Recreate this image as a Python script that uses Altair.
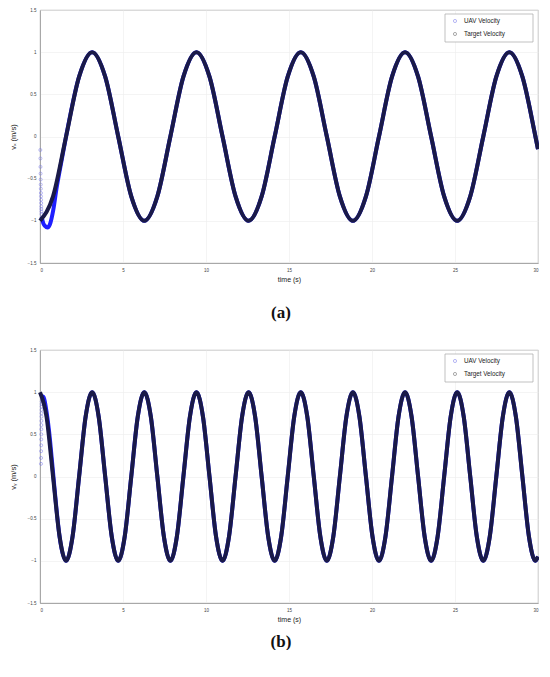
import altair as alt
import pandas as pd

# ---------------- data ----------------
# (a) target v_x samples: extrema / zero crossings / mid values
vx_time = [0.0, 0.785, 1.571, 2.356, 3.142, 3.927, 4.712, 5.498, 6.283, 7.069,
           7.854, 8.639, 9.425, 10.210, 10.996, 11.781, 12.566, 13.352, 14.137, 14.923,
           15.708, 16.493, 17.279, 18.064, 18.850, 19.635, 20.420, 21.206, 21.991, 22.777,
           23.562, 24.347, 25.133, 25.918, 26.704, 27.489, 28.274, 29.060, 29.845, 30.0]
vx_target = [-1, -0.71, 0, 0.71, 1, 0.71, 0, -0.71,
             -1, -0.71, 0, 0.71, 1, 0.71, 0, -0.71,
             -1, -0.71, 0, 0.71, 1, 0.71, 0, -0.71,
             -1, -0.71, 0, 0.71, 1, 0.71, 0, -0.71,
             -1, -0.71, 0, 0.71, 1, 0.71, 0, -0.15]

# (a) UAV v_x start-up transient
uav_vx_col_time = [0.02, 0.025, 0.03, 0.035, 0.04, 0.045, 0.05, 0.055, 0.06, 0.065,
                   0.07, 0.075, 0.08, 0.085, 0.09]
uav_vx_col = [-0.16, -0.26, -0.36, -0.44, -0.51, -0.57, -0.62, -0.67, -0.71, -0.75,
              -0.79, -0.83, -0.86, -0.89, -0.92]
uav_vx_curve_time = [0.1, 0.2, 0.3, 0.45, 0.6, 0.8, 1.0, 1.2]
uav_vx_curve = [-0.95, -1.03, -1.06, -1.08, -1.04, -0.87, -0.61, -0.39]

# (b) target v_y samples
vy_time = [0.0, 0.393, 0.785, 1.178, 1.571, 1.963, 2.356, 2.749, 3.142, 3.534,
           3.927, 4.320, 4.712, 5.105, 5.498, 5.890, 6.283, 6.676, 7.069, 7.461,
           7.854, 8.247, 8.639, 9.032, 9.425, 9.817, 10.210, 10.603, 10.996, 11.388,
           11.781, 12.174, 12.566, 12.959, 13.352, 13.744, 14.137, 14.530, 14.923, 15.315,
           15.708, 16.101, 16.493, 16.886, 17.279, 17.671, 18.064, 18.457, 18.850, 19.242,
           19.635, 20.028, 20.420, 20.813, 21.206, 21.598, 21.991, 22.384, 22.777, 23.169,
           23.562, 23.955, 24.347, 24.740, 25.133, 25.525, 25.918, 26.311, 26.704, 27.096,
           27.489, 27.882, 28.274, 28.667, 29.060, 29.452, 29.845, 30.0]
vy_target = [1, 0.71, 0, -0.71, -1, -0.71, 0, 0.71,
             1, 0.71, 0, -0.71, -1, -0.71, 0, 0.71,
             1, 0.71, 0, -0.71, -1, -0.71, 0, 0.71,
             1, 0.71, 0, -0.71, -1, -0.71, 0, 0.71,
             1, 0.71, 0, -0.71, -1, -0.71, 0, 0.71,
             1, 0.71, 0, -0.71, -1, -0.71, 0, 0.71,
             1, 0.71, 0, -0.71, -1, -0.71, 0, 0.71,
             1, 0.71, 0, -0.71, -1, -0.71, 0, 0.71,
             1, 0.71, 0, -0.71, -1, -0.71, 0, 0.71,
             1, 0.71, 0, -0.71, -1, -0.95]

# (b) UAV v_y start-up transient
uav_vy_col_time = [0.06, 0.063, 0.066, 0.069, 0.072, 0.075, 0.078, 0.081, 0.084, 0.087,
                   0.09, 0.093, 0.096, 0.099, 0.102]
uav_vy_col = [0.15, 0.22, 0.30, 0.37, 0.44, 0.50, 0.56, 0.61, 0.66, 0.71,
              0.75, 0.79, 0.83, 0.86, 0.89]
uav_vy_curve_time = [0.12, 0.2, 0.3, 0.4, 0.55, 0.7, 0.85, 1.0]
uav_vy_curve = [0.93, 0.95, 0.88, 0.76, 0.53, 0.23, -0.09, -0.40]

series_names = ["UAV Velocity", "Target Velocity"]
x_ticks = [0, 5, 10, 15, 20, 25, 30]
y_ticks = [-1.5, -1, -0.5, 0, 0.5, 1, 1.5]

UAV_BLUE = "#1f1fff"
UAV_LIGHT = "#6f6fe8"
TARGET = "#1a1a48"
FONT = "Liberation Sans"
W = 498


def legend_layers():
    r = W - 5
    box = alt.Chart().mark_rect(fill="white", stroke="#a8a8a8", strokeWidth=0.7).encode(
        x=alt.value(r - 88), x2=alt.value(r), y=alt.value(4), y2=alt.value(32))
    s1 = alt.Chart().mark_point(shape="circle", filled=False, size=10, strokeWidth=0.7,
                                color=UAV_LIGHT).encode(x=alt.value(r - 78), y=alt.value(11))
    s2 = alt.Chart().mark_point(shape="circle", filled=False, size=10, strokeWidth=0.7,
                                color="#555555").encode(x=alt.value(r - 78), y=alt.value(24))
    t1 = alt.Chart().mark_text(text=series_names[0], align="left", baseline="middle",
                               font=FONT, fontSize=6.3, color="#222222").encode(
        x=alt.value(r - 69), y=alt.value(10.5))
    t2 = alt.Chart().mark_text(text=series_names[1], align="left", baseline="middle",
                               font=FONT, fontSize=6.3, color="#222222").encode(
        x=alt.value(r - 69), y=alt.value(23.5))
    return [box, s1, s2, t1, t2]


def panel(t_time, t_vals, c_time, c_vals, u_time, u_vals, ytitle, caption, h, cap_off):
    tgt = pd.DataFrame({"t": t_time, "v": t_vals})
    last = u_time[-1]
    uav = pd.DataFrame({
        "t": list(u_time) + [a for a in t_time if a > last],
        "v": list(u_vals) + [b for a, b in zip(t_time, t_vals) if a > last],
    })
    col = pd.DataFrame({"t": c_time, "v": c_vals})

    x = alt.X("t:Q", scale=alt.Scale(domain=[0, 30], nice=False),
              axis=alt.Axis(values=x_ticks, title="time (s)", format="~g"))
    y = alt.Y("v:Q", scale=alt.Scale(domain=[-1.5, 1.5], nice=False),
              axis=alt.Axis(values=y_ticks, title=ytitle, format="~g"))

    uav_line = alt.Chart(uav).mark_line(strokeWidth=4, interpolate="monotone",
                                        color=UAV_BLUE).encode(
        x=x, y=y, order=alt.Order("t:Q"))
    tgt_line = alt.Chart(tgt).mark_line(strokeWidth=4, interpolate="monotone",
                                        color=TARGET).encode(
        x=x, y=y, order=alt.Order("t:Q"))
    col_pts = alt.Chart(col).mark_point(shape="circle", filled=False, size=9,
                                        strokeWidth=0.7, color=UAV_LIGHT).encode(x=x, y=y)

    return alt.layer(uav_line, col_pts, tgt_line, *legend_layers()).properties(
        width=W, height=h,
        title=alt.TitleParams(caption, orient="bottom", anchor="middle",
                              font="Liberation Serif", fontSize=17, fontWeight="bold",
                              color="#111111", offset=cap_off, dx=-8),
    )


pa = panel(vx_time, vx_target, uav_vx_col_time, uav_vx_col,
           uav_vx_curve_time, uav_vx_curve, "vₓ (m/s)", "(a)", 253, 22)
pb = panel(vy_time, vy_target, uav_vy_col_time, uav_vy_col,
           uav_vy_curve_time, uav_vy_curve, "vᵧ (m/s)", "(b)", 253, 11)

chart = alt.vconcat(pa, pb, spacing=25).properties(
    padding={"left": 0, "top": -2, "right": -8, "bottom": 0}
).configure_view(stroke="#9a9a9a", strokeWidth=0.8).configure_axis(
    labelFont=FONT, labelFontSize=4.5, labelColor="#444444", labelPadding=4,
    titleFont=FONT, titleFontSize=7, titleFontWeight="normal", titleColor="#222222",
    gridColor="#ececec", gridWidth=0.6, domainColor="#9a9a9a", domainWidth=0.8,
    tickSize=0,
).configure_axisX(titlePadding=4).configure_axisY(titlePadding=10, titleFontSize=7.5)

chart.save("out.html", embed_options={"renderer": "svg", "actions": False})
